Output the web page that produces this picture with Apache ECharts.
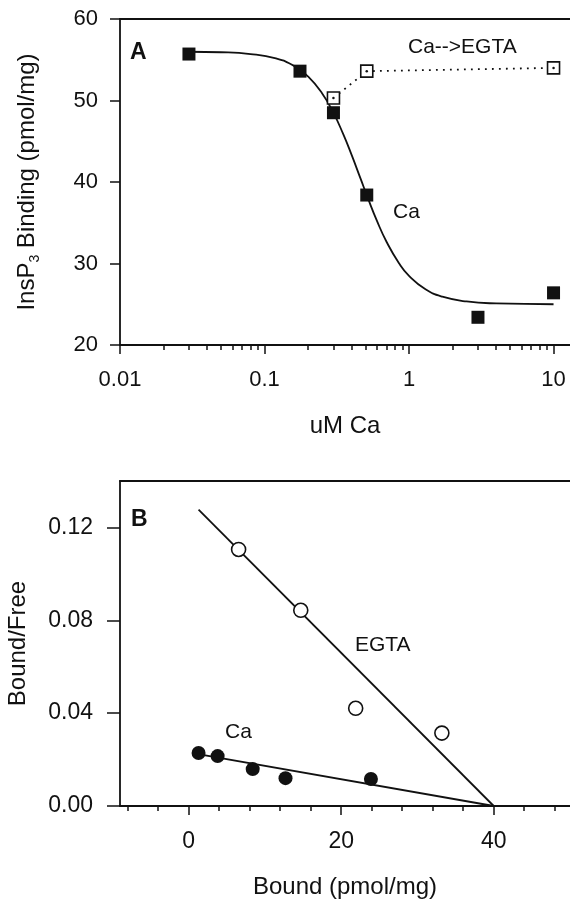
<!DOCTYPE html>
<html>
<head>
<meta charset="utf-8">
<title>InsP3 binding</title>
<script src="https://cdn.jsdelivr.net/npm/echarts@6/dist/echarts.min.js"></script>
<style>
  html, body { margin: 0; padding: 0; background: #fff; }
  #main { width: 570px; height: 901px; }
</style>
</head>
<body>
<div id="main"></div>
<script>
// panel A: InsP3 binding vs free Ca
var caBinding = [[0.03, 55.7], [0.176, 53.6], [0.30, 48.5], [0.51, 38.4], [3.0, 23.4], [10, 26.4]];
var caToEgta = [[0.30, 50.3], [0.51, 53.6], [10, 54.0]];
// fitted curve
var caFitCurve = [
  [0.03, 55.98], [0.05, 55.92], [0.08, 55.7], [0.12, 55.16], [0.16, 54.25],
  [0.2, 52.95], [0.25, 50.9], [0.3, 48.48], [0.35, 45.9], [0.4, 43.35],
  [0.46, 40.5], [0.52, 37.99], [0.6, 35.23], [0.7, 32.64], [0.85, 30.07],
  [1.0, 28.49], [1.3, 26.84], [1.7, 25.93], [2.5, 25.34], [4, 25.1], [10, 25.0]
];
var xMaxA = 13;
var xLabelsA = ['0.01', '0.1', '1', '10'];

// panel B: Scatchard plot
var egtaScatchard = [[6.55, 0.1105], [14.7, 0.0843], [21.9, 0.0421], [33.2, 0.0314]];
var caScatchard = [[1.3, 0.0228], [3.8, 0.0215], [8.4, 0.0159], [12.7, 0.0120], [23.9, 0.0116]];
var egtaFitLine = [[1.3, 0.1277], [40, 0]];
var caFitLine = [[0.5, 0.0228], [40, 0]];
var xMajorB = [0, 20, 40];
var xMinorB = [-8, -4, 4, 8, 12, 16, 24, 28, 32, 36, 44, 48];
var yMajorB = [0, 0.04, 0.08, 0.12];

var FONT = 'Liberation Sans, Arial, sans-serif';
var INK = '#111';
var LW = 1.8;

// log minor ticks for panel A (position in log10 units)
var logMajor = [-2, -1, 0, 1];
var logMinor = [];
[-2, -1, 0, 1].forEach(function (d) {
  for (var m = 2; m <= 9; m++) {
    var v = Math.log10(m) + d;
    if (v <= Math.log10(xMaxA)) logMinor.push(v);
  }
});
var yMinorA = [];
for (var v = 22; v < 60; v += 2) if (v % 10 !== 0) yMinorA.push(v);
var yMinorB = [];
for (var k = 1; k <= 17; k++) if (k % 5 !== 0) yMinorB.push(+(k * 0.008).toFixed(3));

var chart = echarts.init(document.getElementById('main'));

function tickOnly(base, len, values) {
  return Object.assign({
    axisLine: { show: false, onZero: false },
    axisTick: { show: true, length: len, customValues: values, lineStyle: { color: INK, width: 1.5 } },
    axisLabel: { show: false },
    splitLine: { show: false }
  }, base);
}

function frameTop(gridIndex) {
  return { type: 'value', gridIndex: gridIndex, position: 'top', min: 0, max: 1,
    axisLine: { onZero: false, lineStyle: { color: INK, width: LW } },
    axisTick: { show: false }, axisLabel: { show: false }, splitLine: { show: false } };
}

var option = {
  animation: false,
  backgroundColor: '#fff',
  grid: [
    { left: 120, top: 19, right: 0, height: 326, outerBoundsMode: 'none' },
    { left: 120, top: 481, right: 0, height: 325, outerBoundsMode: 'none' }
  ],
  xAxis: [
    // 0: panel A data axis
    { type: 'log', gridIndex: 0, position: 'bottom', min: 0.01, max: xMaxA, logBase: 10,
      axisLine: { onZero: false, lineStyle: { color: INK, width: LW } },
      axisTick: { show: false }, axisLabel: { show: false }, splitLine: { show: false } },
    // 1: panel A labels + major ticks
    { type: 'value', gridIndex: 0, position: 'bottom', min: -2, max: Math.log10(xMaxA),
      axisLine: { show: false, onZero: false },
      axisTick: { show: true, length: 9, customValues: logMajor, lineStyle: { color: INK, width: 1.5 } },
      axisLabel: { customValues: logMajor, margin: 24, color: INK, fontFamily: FONT, fontSize: 22,
        formatter: function (v) { return xLabelsA[Math.round(v) + 2]; } },
      splitLine: { show: false },
      name: 'uM Ca', nameLocation: 'middle', nameGap: 69,
      nameTextStyle: { color: INK, fontFamily: FONT, fontSize: 24 } },
    // 2: panel A minor ticks
    tickOnly({ type: 'value', gridIndex: 0, position: 'bottom', min: -2, max: Math.log10(xMaxA) }, 5, logMinor),
    // 3: panel A top frame
    frameTop(0),
    // 4: panel B data axis
    { type: 'value', gridIndex: 1, position: 'bottom', min: -9, max: 50,
      axisLine: { onZero: false, lineStyle: { color: INK, width: LW } },
      axisTick: { show: true, length: 9, customValues: xMajorB, lineStyle: { color: INK, width: 1.5 } },
      axisLabel: { customValues: xMajorB, margin: 24, color: INK, fontFamily: FONT, fontSize: 23 },
      splitLine: { show: false },
      name: 'Bound (pmol/mg)', nameLocation: 'middle', nameGap: 69,
      nameTextStyle: { color: INK, fontFamily: FONT, fontSize: 24 } },
    // 5: panel B minor ticks
    tickOnly({ type: 'value', gridIndex: 1, position: 'bottom', min: -9, max: 50 }, 5, xMinorB),
    // 6: panel B top frame
    frameTop(1)
  ],
  yAxis: [
    // 0: panel A
    { type: 'value', gridIndex: 0, min: 20, max: 60, interval: 10,
      axisLine: { show: true, onZero: false, lineStyle: { color: INK, width: LW } },
      axisTick: { show: true, length: 10, lineStyle: { color: INK, width: 1.5 } },
      axisLabel: { margin: 22, color: INK, fontFamily: FONT, fontSize: 22 },
      splitLine: { show: false },
      name: '{n|InsP}{s|3}{n| Binding (pmol/mg)}', nameLocation: 'middle', nameGap: 78, nameRotate: 90,
      nameTextStyle: { color: INK, fontFamily: FONT, fontSize: 24,
        rich: { n: { fontFamily: FONT, fontSize: 24, color: INK, lineHeight: 30 },
                s: { fontFamily: FONT, fontSize: 14, color: INK, verticalAlign: 'bottom', lineHeight: 30 } } } },
    // 1: panel A minor ticks
    tickOnly({ type: 'value', gridIndex: 0, min: 20, max: 60 }, 5, yMinorA),
    // 2: panel B
    { type: 'value', gridIndex: 1, min: 0, max: 0.14,
      axisLine: { show: true, onZero: false, lineStyle: { color: INK, width: LW } },
      axisTick: { show: true, length: 13, customValues: yMajorB, lineStyle: { color: INK, width: 1.5 } },
      axisLabel: { customValues: yMajorB, margin: 27, color: INK, fontFamily: FONT, fontSize: 23,
        formatter: function (v) { return v.toFixed(2); } },
      splitLine: { show: false },
      name: 'Bound/Free', nameLocation: 'middle', nameGap: 90, nameRotate: 90,
      nameTextStyle: { color: INK, fontFamily: FONT, fontSize: 24 } },
    // 3: panel B minor ticks
    tickOnly({ type: 'value', gridIndex: 1, min: 0, max: 0.14 }, 7, yMinorB)
  ],
  series: [
    { type: 'line', xAxisIndex: 0, yAxisIndex: 0, data: caFitCurve, smooth: true, showSymbol: false,
      lineStyle: { color: INK, width: LW }, z: 2 },
    { type: 'scatter', xAxisIndex: 0, yAxisIndex: 0, data: caBinding, symbol: 'rect', symbolSize: 13,
      itemStyle: { color: INK, opacity: 1 }, z: 4 },
    { type: 'line', xAxisIndex: 0, yAxisIndex: 0, data: caToEgta, symbol: 'rect', symbolSize: 12,
      showSymbol: true,
      lineStyle: { color: INK, width: LW, type: [1.8, 5.2] },
      itemStyle: { color: '#fff', borderColor: INK, borderWidth: 1.6, opacity: 1 }, z: 5 },
    { type: 'scatter', xAxisIndex: 0, yAxisIndex: 0, data: caToEgta, symbol: 'circle', symbolSize: 2.5,
      itemStyle: { color: INK, opacity: 1 }, z: 6 },

    { type: 'line', xAxisIndex: 4, yAxisIndex: 2, data: egtaFitLine, showSymbol: false,
      lineStyle: { color: INK, width: LW }, z: 2 },
    { type: 'line', xAxisIndex: 4, yAxisIndex: 2, data: caFitLine, showSymbol: false,
      lineStyle: { color: INK, width: LW }, z: 2 },
    { type: 'scatter', xAxisIndex: 4, yAxisIndex: 2, data: egtaScatchard, symbol: 'circle', symbolSize: 14,
      itemStyle: { color: '#fff', borderColor: INK, borderWidth: 1.6, opacity: 1 }, z: 4 },
    { type: 'scatter', xAxisIndex: 4, yAxisIndex: 2, data: caScatchard, symbol: 'circle', symbolSize: 14,
      itemStyle: { color: INK, opacity: 1 }, z: 4 }
  ],
  graphic: [
    { type: 'text', x: 130, y: 53, style: { text: 'A', font: 'bold 23px ' + FONT, fill: INK, verticalAlign: 'middle' } },
    { type: 'text', x: 408, y: 47, style: { text: 'Ca-->EGTA', font: '21px ' + FONT, fill: INK, verticalAlign: 'middle' } },
    { type: 'text', x: 393, y: 212, style: { text: 'Ca', font: '21px ' + FONT, fill: INK, verticalAlign: 'middle' } },
    { type: 'text', x: 131, y: 520, style: { text: 'B', font: 'bold 23px ' + FONT, fill: INK, verticalAlign: 'middle' } },
    { type: 'text', x: 225, y: 732, style: { text: 'Ca', font: '21px ' + FONT, fill: INK, verticalAlign: 'middle' } },
    { type: 'text', x: 355, y: 645, style: { text: 'EGTA', font: '21px ' + FONT, fill: INK, verticalAlign: 'middle' } }
  ]
};

chart.setOption(option);
</script>
</body>
</html>
